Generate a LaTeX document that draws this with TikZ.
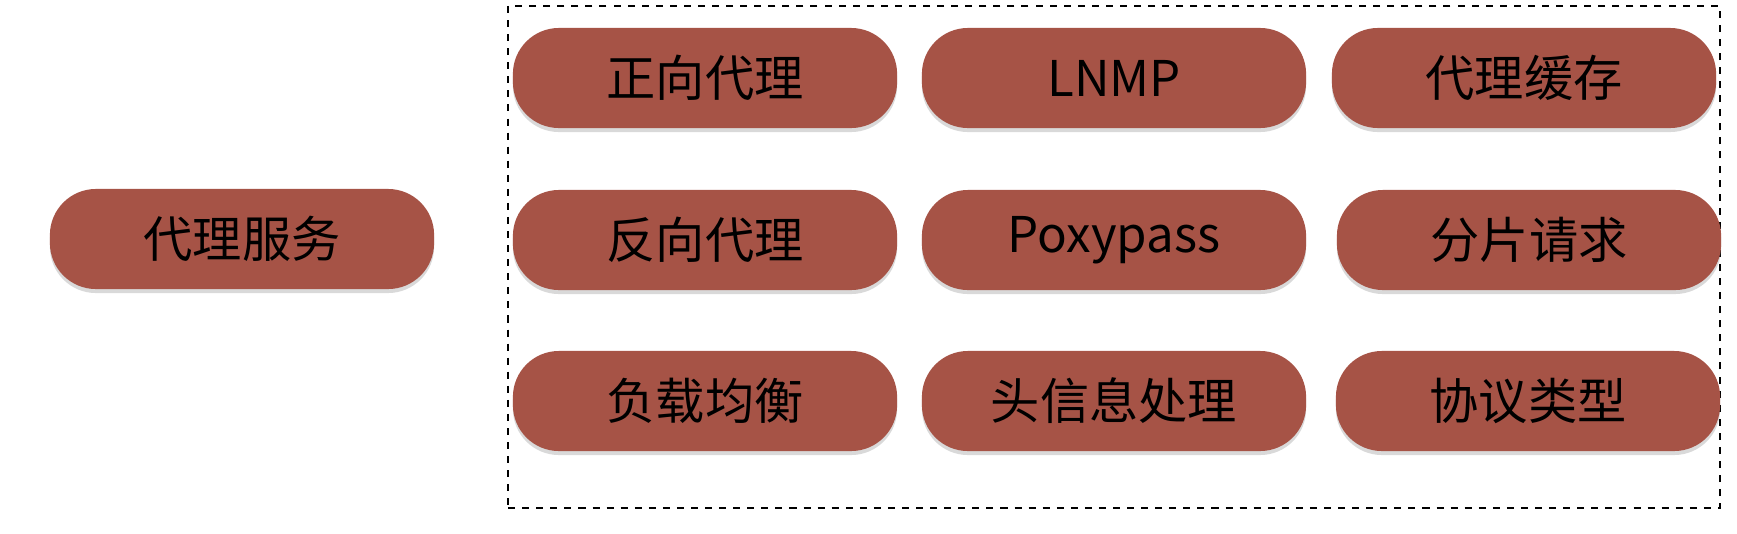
\documentclass[tikz,border=0pt]{standalone}
\usepackage{fontspec}
\setmainfont{Noto Sans CJK SC}
\usetikzlibrary{shadows}
\definecolor{boxred}{RGB}{166,83,70}
\tikzset{
  pill/.style={fill=boxred, rounded corners=0.46cm, minimum width=3.84cm, minimum height=1.0cm,
    inner sep=0pt, font=\fontsize{14pt}{16pt}\selectfont, text=black,
    drop shadow={opacity=0.25, shadow xshift=0cm, shadow yshift=-0.04cm, fill=black!60}},
  frame/.style={draw=black, dash pattern=on 2pt off 2pt, line width=0.7pt}
}
\begin{document}
\begin{tikzpicture}[x=0.01cm,y=-0.01cm]
\useasboundingbox (0,0) rectangle (1737,533);
\node[frame, minimum width=12.11cm, minimum height=5.02cm, inner sep=0pt] (grp) at (1114,257) {};
\node[pill] (svc) at (242,239) {代理服务};
\node[pill] (a1) at (705,78) {正向代理};
\node[pill] (a2) at (1114,78) {LNMP};
\node[pill] (a3) at (1524,78) {代理缓存};
\node[pill] (b1) at (705,240) {反向代理};
\node[pill] (b2) at (1114,240) {Poxypass};
\node[pill] (b3) at (1529,240) {分片请求};
\node[pill] (c1) at (705,401) {负载均衡};
\node[pill] (c2) at (1114,401) {头信息处理};
\node[pill] (c3) at (1528,401) {协议类型};
\end{tikzpicture}
\end{document}
